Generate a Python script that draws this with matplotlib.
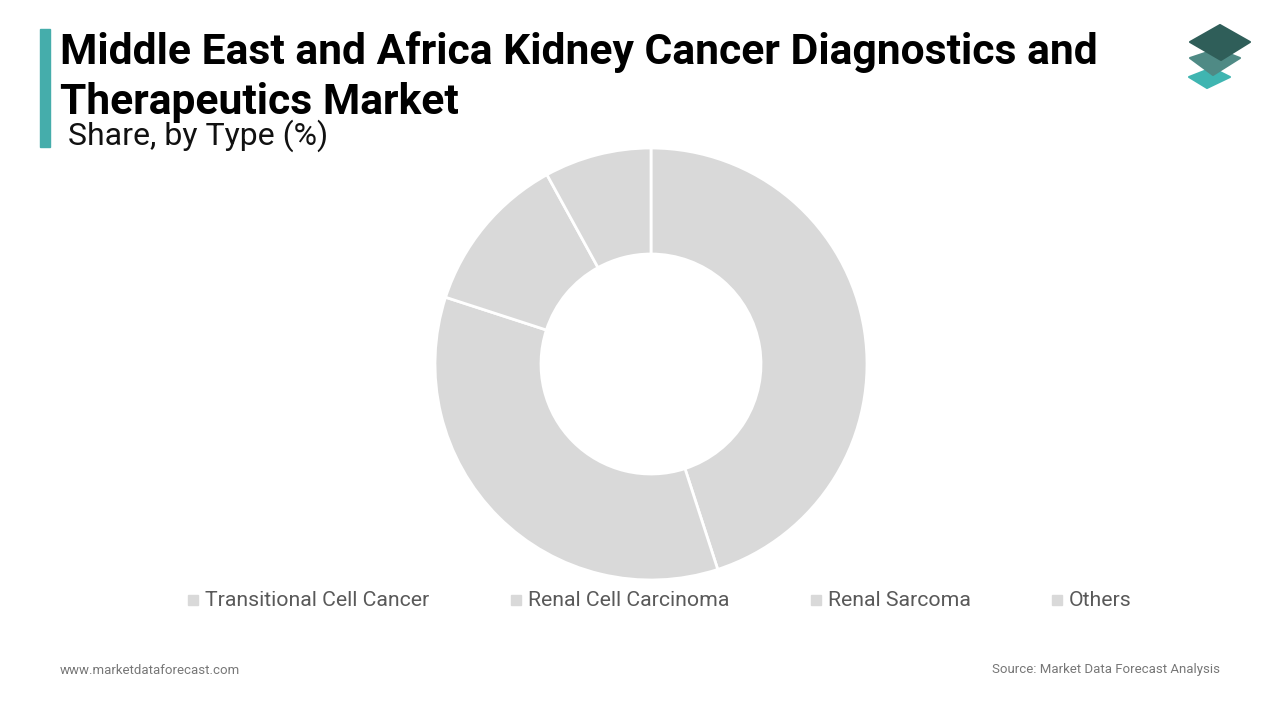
import matplotlib
matplotlib.use("Agg")
import matplotlib.pyplot as plt
from matplotlib.patches import Polygon, Rectangle

categories = ["Transitional Cell Cancer", "Renal Cell Carcinoma", "Renal Sarcoma", "Others"]
shares = [45, 35, 12, 8]
slice_colors = ["#d9d9d9", "#d9d9d9", "#d9d9d9", "#d9d9d9"]

plt.rcParams['font.family'] = ['Roboto', 'DejaVu Sans']

W, H = 1280, 720
fig = plt.figure(figsize=(12.8, 7.2), dpi=100)
fig.patch.set_facecolor("white")

def fx(x):
    return x / W

def fy(y):
    return 1 - y / H

# Title accent bar
fig.patches.append(Rectangle((fx(40), fy(147)), fx(10), (147 - 29) / H,
                             transform=fig.transFigure, color="#45adab", zorder=1))

fig.text(fx(60), fy(64), "Middle East and Africa Kidney Cancer Diagnostics and",
         fontsize=30.7, fontweight="bold", color="#000000", va="baseline", ha="left")
fig.text(fx(60), fy(114), "Therapeutics Market",
         fontsize=30.7, fontweight="bold", color="#000000", va="baseline", ha="left")
fig.text(fx(68), fy(145), "Share, by Type (%)",
         fontsize=23, color="#111111", va="baseline", ha="left")

# Logo
def diamond(pts, color):
    poly = Polygon([(fx(x), fy(y)) for x, y in pts], closed=True,
                   transform=fig.transFigure, facecolor=color, edgecolor=color,
                   linewidth=1.5, joinstyle="round", zorder=3)
    fig.patches.append(poly)

diamond([(1189, 77), (1212, 68), (1230, 77), (1207, 88)], "#3fb5b1")
diamond([(1190, 58), (1217, 49), (1240, 58), (1213, 75)], "#4f8a85")
diamond([(1190, 42), (1220, 25), (1250, 42), (1221, 60)], "#2f5e59")

# Donut
cx, cy, r = 651, 364, 216
ax = fig.add_axes([fx(cx - r), fy(cy + r), 2 * r / W, 2 * r / H])
ax.pie(shares, colors=slice_colors, startangle=90, counterclock=False,
       radius=1.0, wedgeprops=dict(width=1 - 110 / 216, edgecolor="white", linewidth=2))
ax.set_xlim(-1.0, 1.0)
ax.set_ylim(-1.0, 1.0)
ax.set_aspect("equal")
ax.axis("off")

# Legend
marker_x = [193, 516, 816, 1057]
for mx, label, col in zip(marker_x, categories, slice_colors):
    fig.patches.append(Rectangle((fx(mx - 5), fy(605)), fx(10), 10 / H,
                                 transform=fig.transFigure, color=col, zorder=3))
    fig.text(fx(mx + 12), fy(600), label, fontsize=15.3, color="#595959",
             va="center", ha="left")

# Footer
fig.text(fx(60), fy(670), "www.marketdataforecast.com", fontsize=9.5,
         color="#777777", va="center", ha="left")
fig.text(fx(1220), fy(670), "Source: Market Data Forecast Analysis", fontsize=9.5,
         color="#777777", va="center", ha="right")

fig.savefig("out.png", dpi=100, facecolor="white")
